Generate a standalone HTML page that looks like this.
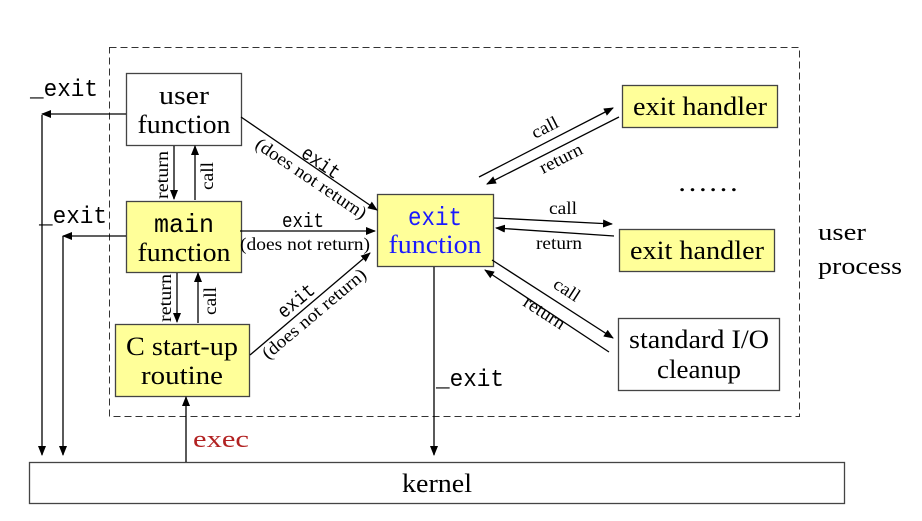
<!DOCTYPE html>
<html><head><meta charset="utf-8"><style>
html,body{margin:0;padding:0;background:#fff;width:922px;height:521px;overflow:hidden}
text{font-family:"Liberation Serif",serif;fill:#000}
text.m{font-family:"Liberation Mono",monospace}
</style></head><body>
<svg width="922" height="521" viewBox="0 0 922 521" xmlns="http://www.w3.org/2000/svg">
<defs><marker id="a" markerWidth="10" markerHeight="8" refX="9" refY="4" orient="auto" markerUnits="userSpaceOnUse"><path d="M0,0 L10,4 L0,8 z" fill="#000"/></marker></defs>
<rect x="109.5" y="47.5" width="690" height="369" fill="none" stroke="#333" stroke-dasharray="7,4"/>
<g stroke="#444" stroke-width="1.3">
<rect x="126.5" y="73.5" width="115" height="72" fill="#fff"/>
<rect x="126.5" y="201.5" width="115" height="71" fill="#ffff99"/>
<rect x="115.5" y="324.5" width="134" height="72" fill="#ffff99"/>
<rect x="377.5" y="194.5" width="116" height="72" fill="#ffff99"/>
<rect x="622.5" y="85.5" width="155" height="42" fill="#ffff99"/>
<rect x="619.5" y="229.5" width="155" height="42" fill="#ffff99"/>
<rect x="618.5" y="318.5" width="161" height="72" fill="#fff"/>
<rect x="29.5" y="462.5" width="815" height="41" fill="#fff"/>
</g>
<g stroke="#000" stroke-width="1.3" fill="none" marker-end="url(#a)">
<path d="M126,114 L42,114"/><path d="M42,115 L42,455"/>
<path d="M126,236 L63,236"/><path d="M63,236 L63,455"/>
<path d="M174,146 L174,199"/><path d="M195,200 L195,146"/>
<path d="M177,273 L177,322"/><path d="M198,323 L198,273"/>
<path d="M186,462 L186,397"/>
<path d="M434,267 L434,455"/>
<path d="M241,117 L377,210"/>
<path d="M240,231 L375,231"/>
<path d="M250,355 L370,253"/>
<path d="M479,177 L613,108"/><path d="M619,117 L487,184"/>
<path d="M494,218 L612,224"/><path d="M614,236 L496,228"/>
<path d="M492,260 L613,338"/><path d="M609,352 L485,270"/>
</g>
<g font-size="26" text-anchor="middle">
<text x="184" y="104" textLength="50" lengthAdjust="spacingAndGlyphs">user</text><text x="184" y="133" textLength="93" lengthAdjust="spacingAndGlyphs">function</text>
<text x="184" y="232" class="m" textLength="60" lengthAdjust="spacingAndGlyphs">main</text><text x="184" y="261" textLength="93" lengthAdjust="spacingAndGlyphs">function</text>
<text x="182" y="355" textLength="112" lengthAdjust="spacingAndGlyphs">C start-up</text><text x="182" y="384" textLength="82" lengthAdjust="spacingAndGlyphs">routine</text>
<text x="435" y="225" class="m" textLength="54" lengthAdjust="spacingAndGlyphs" style="fill:#1a1aff">exit</text><text x="435" y="253" textLength="93" lengthAdjust="spacingAndGlyphs" style="fill:#1a1aff">function</text>
<text x="700" y="115" textLength="134" lengthAdjust="spacingAndGlyphs">exit handler</text>
<text x="697" y="259" textLength="134" lengthAdjust="spacingAndGlyphs">exit handler</text>
<text x="699" y="348" textLength="140" lengthAdjust="spacingAndGlyphs">standard I/O</text><text x="699" y="378" textLength="84" lengthAdjust="spacingAndGlyphs">cleanup</text>
<text x="437" y="492" textLength="70" lengthAdjust="spacingAndGlyphs">kernel</text>
<text x="708" y="191" textLength="62" lengthAdjust="spacingAndGlyphs">……</text>
</g>
<g font-size="24">
<text x="818" y="240" textLength="48" lengthAdjust="spacingAndGlyphs">user</text><text x="818" y="274" textLength="84" lengthAdjust="spacingAndGlyphs">process</text>
<text x="30" y="96" class="m" textLength="68" lengthAdjust="spacingAndGlyphs">_exit</text>
<text x="39" y="223" class="m" textLength="68" lengthAdjust="spacingAndGlyphs">_exit</text>
<text x="436" y="386" class="m" textLength="68" lengthAdjust="spacingAndGlyphs">_exit</text>
<text x="193" y="447" textLength="56" lengthAdjust="spacingAndGlyphs" style="fill:#b22222">exec</text>
</g>
<g font-size="18">
<text x="282" y="227" class="m" textLength="42" lengthAdjust="spacingAndGlyphs" style="font-size:20px">exit</text>
<text x="240" y="250" textLength="130" lengthAdjust="spacingAndGlyphs">(does not return)</text>
<text transform="translate(300,156) rotate(34)" class="m" textLength="42" lengthAdjust="spacingAndGlyphs" style="font-size:20px">exit</text>
<text transform="translate(254,147) rotate(34)" textLength="130" lengthAdjust="spacingAndGlyphs">(does not return)</text>
<text transform="translate(284,319) rotate(-40)" class="m" textLength="42" lengthAdjust="spacingAndGlyphs" style="font-size:20px">exit</text>
<text transform="translate(268,360) rotate(-40)" textLength="130" lengthAdjust="spacingAndGlyphs">(does not return)</text>
<text transform="translate(168,199) rotate(-90)" textLength="48" lengthAdjust="spacingAndGlyphs">return</text>
<text transform="translate(213,190) rotate(-90)" textLength="28" lengthAdjust="spacingAndGlyphs">call</text>
<text transform="translate(171,322) rotate(-90)" textLength="48" lengthAdjust="spacingAndGlyphs">return</text>
<text transform="translate(216,315) rotate(-90)" textLength="28" lengthAdjust="spacingAndGlyphs">call</text>
<text transform="translate(535,139) rotate(-27)" textLength="28" lengthAdjust="spacingAndGlyphs">call</text>
<text transform="translate(543,174) rotate(-27)" textLength="46" lengthAdjust="spacingAndGlyphs">return</text>
<text x="549" y="214" textLength="28" lengthAdjust="spacingAndGlyphs">call</text>
<text x="536" y="249" textLength="46" lengthAdjust="spacingAndGlyphs">return</text>
<text transform="translate(552,287) rotate(33)" textLength="28" lengthAdjust="spacingAndGlyphs">call</text>
<text transform="translate(522,305) rotate(33)" textLength="46" lengthAdjust="spacingAndGlyphs">return</text>
</g>
</svg>
</body></html>
